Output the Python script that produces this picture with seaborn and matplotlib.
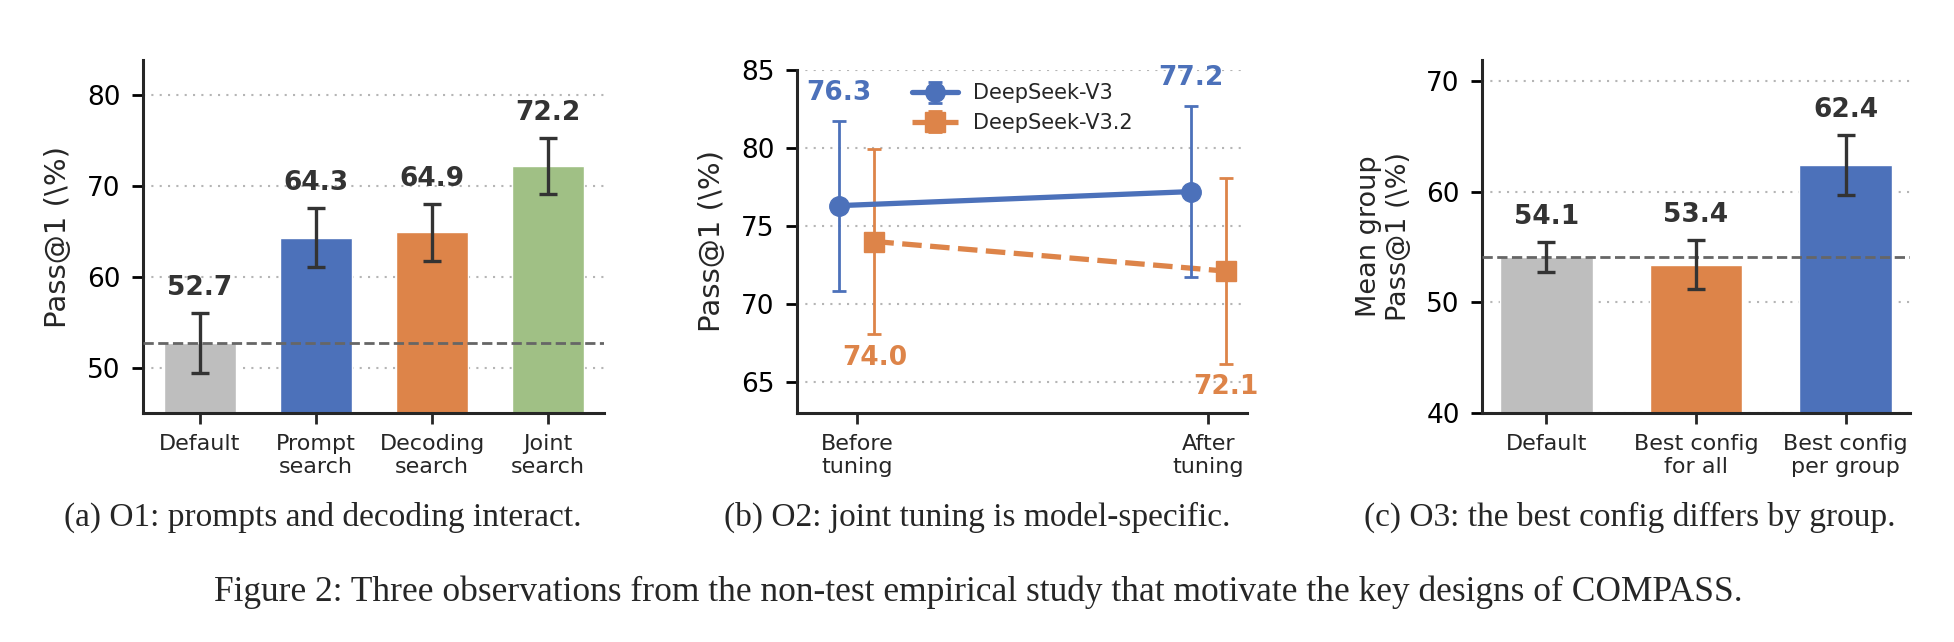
import numpy as np
import matplotlib
matplotlib.use("Agg")
import matplotlib.pyplot as plt
import seaborn as sns

# panel (a) data
cats_a = ["Default", "Prompt\nsearch", "Decoding\nsearch", "Joint\nsearch"]
vals_a = [52.7, 64.3, 64.9, 72.2]
err_a = [3.3, 3.25, 3.15, 3.05]

# panel (b) data
stages_b = ["Before\ntuning", "After\ntuning"]
v3_vals = [76.3, 77.2]
v3_err = [5.45, 5.5]
v32_vals = [74.0, 72.1]
v32_err = [5.95, 5.95]

# panel (c) data
cats_c = ["Default", "Best config\nfor all", "Best config\nper group"]
vals_c = [54.1, 53.4, 62.4]
err_c = [1.35, 2.2, 2.7]

captions = [
    "(a) O1: prompts and decoding interact.",
    "(b) O2: joint tuning is model-specific.",
    "(c) O3: the best config differs by group.",
]
fig_caption = ("Figure 2: Three observations from the non-test empirical study "
               "that motivate the key designs of COMPASS.")

GRAY = "#BEBEBE"
BLUE = "#4C71BA"
ORANGE = "#DD8449"
GREEN = "#A0C085"
DARK = "#333333"

sns.set_style("ticks")
plt.rcParams["font.family"] = ["DejaVu Sans"]
plt.rcParams["axes.linewidth"] = 2.2
plt.rcParams["xtick.major.width"] = 2.0
plt.rcParams["ytick.major.width"] = 2.0
plt.rcParams["xtick.major.size"] = 8
plt.rcParams["ytick.major.size"] = 8
plt.rcParams["xtick.major.pad"] = 7
plt.rcParams["ytick.major.pad"] = 8

W, H = 1954, 642
fig = plt.figure(figsize=(W / 100, H / 100), dpi=100)


def box(left, right, top, bottom):
    return [left / W, 1 - bottom / H, (right - left) / W, (bottom - top) / H]


def style_axis(ax):
    ax.yaxis.grid(True, linestyle=(0, (1, 3)), color="#b5b5b5", linewidth=1.5)
    ax.set_axisbelow(True)
    ax.tick_params(axis="y", labelsize=19, colors="black")
    ax.tick_params(axis="x", labelsize=16)
    sns.despine(ax=ax)
    ax.set_xlabel("")


def bar_panel(ax, cats, vals, errs, colors):
    sns.barplot(x=cats, y=vals, hue=cats, palette=colors, width=0.62,
                saturation=1, legend=False, ax=ax)
    xs = np.arange(len(cats))
    ax.errorbar(xs, vals, yerr=errs, fmt="none", ecolor=DARK, elinewidth=2.4,
                capsize=6.5, capthick=2.4, zorder=4)
    ax.axhline(vals[0], color="#666666", linestyle="--", linewidth=2, zorder=3)
    for x, v, e in zip(xs, vals, errs):
        ax.annotate(f"{v:.1f}", (x, v + e), xytext=(0, 18), textcoords="offset points",
                    ha="center", va="center", fontsize=19, fontweight="bold", color=DARK)


# (a)
ax_a = fig.add_axes(box(143, 604, 60, 413))
bar_panel(ax_a, cats_a, vals_a, err_a, [GRAY, BLUE, ORANGE, GREEN])
ax_a.set_ylim(45, 83.9)
ax_a.set_xlim(-0.49, 3.48)
ax_a.set_yticks([50, 60, 70, 80])
ax_a.set_ylabel("Pass@1 (\\%)", fontsize=21, labelpad=11)
style_axis(ax_a)

# (b)
ax_b = fig.add_axes(box(797, 1247, 70, 413))
xb = np.arange(len(stages_b))
ax_b.errorbar(xb - 0.05, v3_vals, yerr=v3_err, color=BLUE, marker="o", markersize=14,
              linewidth=3.8, elinewidth=2, capsize=5, capthick=2, label="DeepSeek-V3", zorder=4)
ax_b.errorbar(xb + 0.05, v32_vals, yerr=v32_err, color=ORANGE, marker="s", markersize=14,
              linestyle="--", linewidth=3.8, elinewidth=2, capsize=5, capthick=2,
              label="DeepSeek-V3.2", zorder=3)
for x, v, e in zip(xb - 0.05, v3_vals, v3_err):
    ax_b.annotate(f"{v:.1f}", (x, v + e), xytext=(0, 20), textcoords="offset points",
                  ha="center", va="center", fontsize=19, fontweight="bold", color=BLUE)
for x, v, e in zip(xb + 0.05, v32_vals, v32_err):
    ax_b.annotate(f"{v:.1f}", (x, v - e), xytext=(0, -17), textcoords="offset points",
                  ha="center", va="center", fontsize=19, fontweight="bold", color=ORANGE)
ax_b.set_xticks(xb)
ax_b.set_xticklabels(stages_b)
ax_b.set_xlim(-0.17, 1.11)
ax_b.set_ylim(63, 85)
ax_b.set_yticks([65, 70, 75, 80, 85])
ax_b.set_ylabel("Pass@1 (\\%)", fontsize=21, labelpad=11)
ax_b.legend(loc="upper left", bbox_to_anchor=(0.238, 0.985), frameon=False, fontsize=15,
            handlelength=2.2, handletextpad=0.7, borderaxespad=0, labelspacing=0.45)
style_axis(ax_b)

# (c)
ax_c = fig.add_axes(box(1482, 1910, 60, 413))
bar_panel(ax_c, cats_c, vals_c, err_c, [GRAY, ORANGE, BLUE])
ax_c.set_ylim(40, 71.9)
ax_c.set_xlim(-0.43, 2.43)
ax_c.set_yticks([40, 50, 60, 70])
ax_c.set_ylabel("Mean group\nPass@1 (\\%)", fontsize=19.5, labelpad=10)
style_axis(ax_c)

# captions
for cx, text in zip([323, 977, 1630], captions):
    fig.text(cx / W, 1 - 517 / H, text, ha="center", va="center",
             family="Liberation Serif", fontsize=24)
fig.text(978 / W, 1 - 592 / H, fig_caption, ha="center", va="center",
         family="Liberation Serif", fontsize=25.5)

fig.savefig("out.png", dpi=100, facecolor="white")
